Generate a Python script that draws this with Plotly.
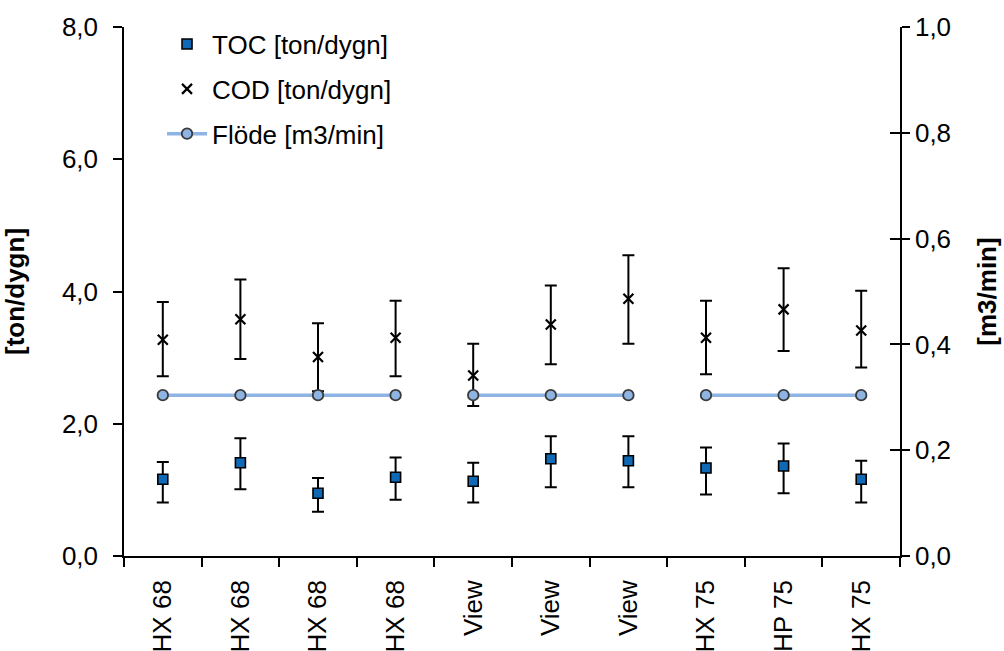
import plotly.graph_objects as go

# Sampling points (category labels along the x axis)
sites = ["HX 68", "HX 68", "HX 68", "HX 68", "View", "View", "View", "HX 75", "HP 75", "HX 75"]
# Group of each point; the flow line is broken between groups
groups = ["HX68", "HX68", "HX68", "HX68", "View", "View", "View", "X75", "X75", "X75"]

# TOC load [ton/dygn] with upper / lower whisker ends
toc = [1.16, 1.41, 0.95, 1.19, 1.13, 1.47, 1.44, 1.33, 1.36, 1.16]
toc_upper = [1.42, 1.78, 1.18, 1.49, 1.41, 1.81, 1.81, 1.64, 1.70, 1.44]
toc_lower = [0.81, 1.01, 0.67, 0.85, 0.81, 1.04, 1.04, 0.93, 0.95, 0.81]

# COD load [ton/dygn] with upper / lower whisker ends
cod = [3.27, 3.58, 3.01, 3.30, 2.73, 3.50, 3.89, 3.30, 3.73, 3.41]
cod_upper = [3.84, 4.18, 3.52, 3.86, 3.21, 4.09, 4.55, 3.86, 4.35, 4.01]
cod_lower = [2.72, 2.98, 2.49, 2.72, 2.27, 2.90, 3.21, 2.75, 3.10, 2.85]

# Flow [m3/min]
flow = [0.304, 0.304, 0.304, 0.304, 0.304, 0.304, 0.304, 0.304, 0.304, 0.304]

left_ticks = [0, 2, 4, 6, 8]
right_ticks = [0, 0.2, 0.4, 0.6, 0.8, 1.0]

FONT = "Liberation Sans, Arial, sans-serif"
FS = 26
BLUE = "#0F69B4"
LIGHT = "#8DB4E2"

idx = list(range(len(sites)))

# Flow line: insert gaps between groups
fx, fy = [], []
for i, (g, v) in enumerate(zip(groups, flow)):
    if i > 0 and g != groups[i - 1]:
        fx.append(None)
        fy.append(None)
    fx.append(i)
    fy.append(v)

fig = go.Figure()

fig.add_trace(go.Scatter(
    x=idx, y=toc, mode="markers", name="TOC [ton/dygn]",
    legendgroup="a",
    marker=dict(symbol="square", size=10, color=BLUE, line=dict(color="black", width=1.6)),
    error_y=dict(type="data", symmetric=False,
                 array=[u - v for u, v in zip(toc_upper, toc)],
                 arrayminus=[v - l for v, l in zip(toc, toc_lower)],
                 color="black", thickness=2, width=6),
))

fig.add_trace(go.Scatter(
    x=idx, y=cod, mode="markers", name="COD [ton/dygn]",
    legendgroup="b",
    marker=dict(symbol="x-thin", size=10, color="black", line=dict(color="black", width=2.2)),
    error_y=dict(type="data", symmetric=False,
                 array=[u - v for u, v in zip(cod_upper, cod)],
                 arrayminus=[v - l for v, l in zip(cod, cod_lower)],
                 color="black", thickness=2, width=6),
))

fig.add_trace(go.Scatter(
    x=fx, y=fy, mode="lines+markers", name="Flöde [m3/min]",
    legendgroup="c", yaxis="y2", connectgaps=False,
    line=dict(color=LIGHT, width=3.5),
    marker=dict(symbol="circle", size=10.5, color=LIGHT, line=dict(color="#3A3A3A", width=1.8)),
))

# Empty trace keeping the inward tick axis on the right
fig.add_trace(go.Scatter(x=[], y=[], yaxis="y3", showlegend=False, hoverinfo="skip"))

fig.update_layout(
    width=1004, height=651,
    margin=dict(l=124, r=104, t=27, b=95, autoexpand=False),
    paper_bgcolor="white", plot_bgcolor="white",
    font=dict(family=FONT, size=FS, color="black"),
    separators=", ",
    showlegend=True,
    legend=dict(
        x=0.049, y=1.012, xanchor="left", yanchor="top",
        traceorder="grouped", tracegroupgap=8,
        font=dict(family=FONT, size=FS, color="black"),
        bgcolor="rgba(0,0,0,0)", itemwidth=40,
    ),
    xaxis=dict(
        range=[-0.5, 9.5], tickmode="array", tickvals=idx, ticktext=sites,
        tickangle=-90, ticks="outside", ticklen=12, tickcolor="rgba(0,0,0,0)",
        showline=True, linecolor="black", linewidth=1.5,
        showgrid=False, zeroline=False, automargin=False,
        minor=dict(tickmode="array", tickvals=[i - 0.5 for i in range(len(sites) + 1)],
                   ticks="outside", ticklen=9, tickcolor="black", tickwidth=1.5, showgrid=False),
        tickfont=dict(family=FONT, size=FS),
    ),
    yaxis=dict(
        range=[0, 8], tickmode="array", tickvals=left_ticks, tickformat=".1f",
        ticks="outside", ticklen=9, tickwidth=1.5, tickcolor="black",
        showline=True, linecolor="black", linewidth=1.5,
        showgrid=False, zeroline=False, automargin=False,
        ticklabelstandoff=10,
        title=dict(text="<b>[ton/dygn]</b>", font=dict(family=FONT, size=FS), standoff=30),
        tickfont=dict(family=FONT, size=FS),
    ),
    yaxis2=dict(
        range=[0, 1], overlaying="y", side="right", anchor="x",
        tickmode="array", tickvals=right_ticks, tickformat=".1f",
        ticks="outside", ticklen=8, tickwidth=1.5, tickcolor="black",
        showline=True, linecolor="black", linewidth=1.5,
        showgrid=False, zeroline=False, automargin=False,
        title=dict(text="<b>[m3/min]</b>", font=dict(family=FONT, size=FS), standoff=28),
        tickfont=dict(family=FONT, size=FS),
    ),
    yaxis3=dict(
        range=[0, 1], overlaying="y", side="right", anchor="x",
        tickmode="array", tickvals=right_ticks,
        ticks="inside", ticklen=10, tickwidth=1.5, tickcolor="black",
        showticklabels=False, showline=False, showgrid=False, zeroline=False,
        automargin=False,
    ),
)

fig.write_html("out.html")
